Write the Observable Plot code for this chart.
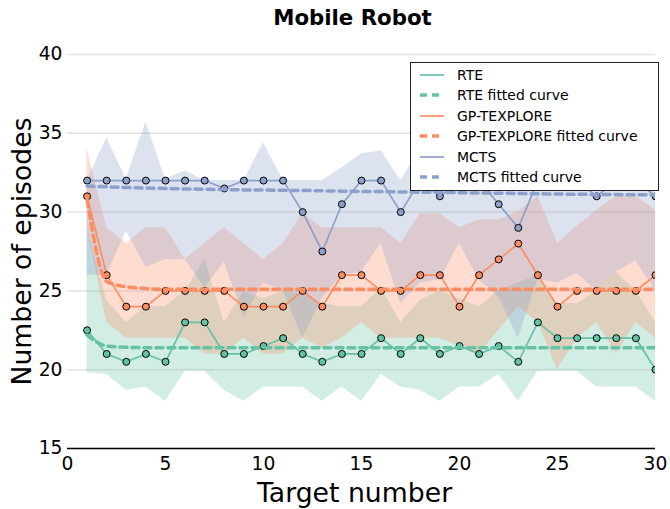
<!DOCTYPE html>
<html>
<head>
<meta charset="utf-8">
<script src="https://cdn.jsdelivr.net/npm/d3@7"></script>
<script src="https://cdn.jsdelivr.net/npm/@observablehq/plot@0.6"></script>
<style>
  body { margin: 0; background: #fff; }
  #wrap { position: relative; width: 670px; height: 509px; font-family: "DejaVu Sans", sans-serif; }
  #legend { position: absolute; left: 410px; top: 62px; width: 249px; height: 129px; background: #fff;
            border: 1px solid #222; box-sizing: border-box; font-size: 14px; color: #000; }
  .row { position: absolute; left: 0; height: 20px; width: 100%; }
  .row span { position: absolute; left: 46px; top: 0; line-height: 20px; white-space: nowrap; }
  .row svg { position: absolute; left: 8px; top: 0; }
</style>
</head>
<body>
<div id="wrap"></div>
<script>
const targets = [1,2,3,4,5,6,7,8,9,10,11,12,13,14,15,16,17,18,19,20,21,22,23,24,25,26,27,28,29,30];

const rteMean = [22.5,21,20.5,21,20.5,23,23,21,21,21.5,22,21,20.5,21,21,22,21,22,21,21.5,21,21.5,20.5,23,22,22,22,22,22,20];
const rteLow  = [19.8,19.7,18.7,18.9,18,19.9,19.9,18.7,18,18.9,18.9,18.9,18,18.9,18,19.7,18.9,18.7,18,18.9,18.9,19.7,18,19.9,19.9,19.9,18.9,18.9,18.9,18];
const rteHigh = [29,24.4,23,24,24,25,27,23,25,24.5,25,24.8,24.2,24,24,25.2,23,24.4,25,24.5,24,25,25.5,26,24.2,24.2,25,26.2,25,23];
const rteFit  = [22.2,21.5,21.42,21.4,21.4,21.4,21.4,21.4,21.4,21.4,21.4,21.4,21.4,21.4,21.4,21.4,21.4,21.4,21.4,21.4,21.4,21.4,21.4,21.4,21.4,21.4,21.4,21.4,21.4,21.4];

const gpMean = [31,26,24,24,25,25,25,25,24,24,24,25,24,26,26,25,25,26,26,24,26,27,28,26,24,25,25,25,25,26];
const gpLow  = [29,23,22,22,22,22,21,21,22,21,21,22,21.4,22,23,22,22,22,22,21.5,21,22.5,24,23,20,22,23,21,23,22];
const gpHigh = [34,29,28,29,29,27,28,29,28,27,28,29.9,29,29,29,29,28,29.9,29.9,29,29.5,29.5,30,31,28,29.1,30.1,31,31,30.1];
const gpFit  = [30.8,25.6,25.25,25.15,25.1,25.1,25.1,25.1,25.1,25.1,25.1,25.1,25.1,25.1,25.1,25.1,25.1,25.1,25.1,25.1,25.1,25.1,25.1,25.1,25.1,25.1,25.1,25.1,25.1,25.1];

const mctsMean = [32,32,32,32,32,32,32,31.5,32,32,32,30,27.5,30.5,32,32,30,32,31,32,32,30.5,29,32,32,32,31,32,32,31];
const mctsLow  = [26,26,28.8,26.5,27,27,25.2,26.8,23.3,25.5,25,22,24.5,26,26.2,28,24.2,25.5,25.7,28,25.7,24.6,22,25.7,25.5,26.1,25,26.2,26.9,25];
const mctsHigh = [32,34.7,32.1,35.7,32.1,32.6,32,32,32,34.4,32,32,32,32.8,33.7,33.9,32,34,33,33,33,32.5,33,33.5,33,33,33,33,32.5,32.4];
const mctsFit  = [31.65,31.6,31.56,31.53,31.5,31.47,31.45,31.43,31.41,31.4,31.38,31.37,31.35,31.33,31.31,31.3,31.28,31.26,31.25,31.23,31.21,31.2,31.18,31.16,31.15,31.13,31.12,31.11,31.1,31.1];

const seriesNames = ["RTE", "GP-TEXPLORE", "MCTS"];
const colors = ["#66c2a5", "#fc8d62", "#8da0cb"];
const xTicks = [0,5,10,15,20,25,30];
const yTicks = [15,20,25,30,35,40];

const raw = [
  [rteMean, rteLow, rteHigh, rteFit],
  [gpMean, gpLow, gpHigh, gpFit],
  [mctsMean, mctsLow, mctsHigh, mctsFit]
];
const tables = raw.map(([m, lo, hi, fit], i) =>
  targets.map((x, j) => ({x, mean: m[j], lo: lo[j], hi: hi[j], fit: fit[j], series: seriesNames[i]}))
);

const font = "DejaVu Sans";
const dash = "7,5";
const marks = [
  Plot.gridY(yTicks, {stroke: "#e3e3e3", strokeOpacity: 1, strokeWidth: 1.5}),
];
tables.forEach((t, i) => {
  marks.push(Plot.areaY(t, {x: "x", y1: "lo", y2: "hi", fill: colors[i], fillOpacity: 0.3, clip: true}));
});
tables.forEach((t, i) => {
  marks.push(Plot.lineY(t, {x: "x", y: "mean", stroke: colors[i], strokeWidth: 1.7, clip: true}));
  marks.push(Plot.dot(t, {x: "x", y: "mean", r: 3.5, fill: colors[i], stroke: "#000", strokeWidth: 1, clip: true}));
});
tables.forEach((t, i) => {
  marks.push(Plot.lineY(t, {x: "x", y: "fit", stroke: colors[i], strokeWidth: 3.5, strokeDasharray: dash, curve: "monotone-x", clip: true}));
});
marks.push(
  Plot.ruleY([15], {stroke: "#000", strokeWidth: 1.3}),
  Plot.axisX(xTicks, {tickSize: 0, tickPadding: 8, fontSize: 18.7, label: null, fill: "#000"}),
  Plot.axisY(yTicks, {tickSize: 0, tickPadding: 5, fontSize: 18.7, label: null, fill: "#000"}),
  Plot.text(["Mobile Robot"], {frameAnchor: "top", dy: -36, dx: -9, fontSize: 21.3, fontWeight: "bold", fill: "#000", lineAnchor: "middle"}),
  Plot.text(["Target number"], {frameAnchor: "bottom", dy: 45, dx: -7, fontSize: 26.7, fill: "#000", lineAnchor: "middle"}),
  Plot.text(["Number of episodes"], {frameAnchor: "left", dx: -45, rotate: -90, textAnchor: "middle", fontSize: 26.7, fill: "#000", lineAnchor: "middle"})
);

const chart = Plot.plot({
  width: 670,
  height: 509,
  marginLeft: 67,
  marginRight: 15,
  marginTop: 54,
  marginBottom: 61,
  style: {fontFamily: font, background: "#fff", color: "#000", overflow: "visible"},
  x: {domain: [0, 30]},
  y: {domain: [15, 40]},
  marks
});

const wrap = document.getElementById("wrap");
wrap.appendChild(chart);

// Legend
const legendItems = [
  {label: "RTE", color: colors[0], dashed: false},
  {label: "RTE fitted curve", color: colors[0], dashed: true},
  {label: "GP-TEXPLORE", color: colors[1], dashed: false},
  {label: "GP-TEXPLORE fitted curve", color: colors[1], dashed: true},
  {label: "MCTS", color: colors[2], dashed: false},
  {label: "MCTS fitted curve", color: colors[2], dashed: true}
];
const legend = document.createElement("div");
legend.id = "legend";
legendItems.forEach((it, k) => {
  const row = document.createElement("div");
  row.className = "row";
  row.style.top = (2 + k * 20.4) + "px";
  const sw = it.dashed
    ? `<svg width="26" height="20"><line x1="1" y1="10" x2="25" y2="10" stroke="${it.color}" stroke-width="3.5" stroke-dasharray="${dash}"/></svg>`
    : `<svg width="26" height="20"><line x1="1" y1="10" x2="25" y2="10" stroke="${it.color}" stroke-width="1.7"/></svg>`;
  row.innerHTML = sw + `<span>${it.label}</span>`;
  legend.appendChild(row);
});
wrap.appendChild(legend);
</script>
</body>
</html>
